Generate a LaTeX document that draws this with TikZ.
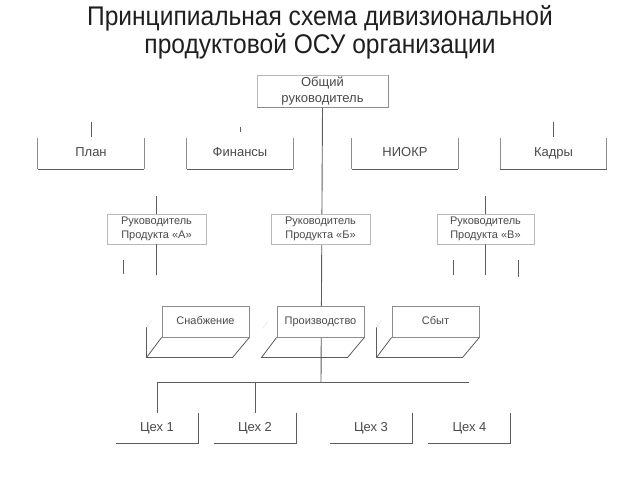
\documentclass[tikz,border=0pt]{standalone}
\usepackage{fontspec}
\setmainfont{Liberation Sans}
\newfontfamily\titlefont[FakeStretch=0.91]{Liberation Sans}
\usetikzlibrary{backgrounds}
\definecolor{txt}{HTML}{4A4A4A}
\definecolor{lite}{HTML}{B8B8B8}
\definecolor{mid}{HTML}{8C8C8C}
\definecolor{dark}{HTML}{5C5C5C}
\definecolor{faint}{HTML}{DDDDDD}
\begin{document}
\begin{tikzpicture}[x=1bp,y=-1bp,
  box/.style={inner sep=0pt, text=txt, align=center, fill=white},
  full/.style={box, draw=lite, line width=0.8bp},
  big/.style={font=\fontsize{13bp}{16bp}\selectfont},
  one/.style={text height=9.4bp, text depth=2.6bp},
  small/.style={font=\fontsize{11bp}{14bp}\selectfont},
  conn/.style={draw=dark, line width=0.9bp},
  side/.style={draw=mid, line width=0.8bp},
  base/.style={draw=dark, line width=1bp},
  plate/.style={draw=dark, line width=0.8bp}
]
\useasboundingbox (0,0) rectangle (640,480);

% title
\node[text=black!88, align=center, font=\titlefont\fontsize{27bp}{28bp}\selectfont] (title) at (320,32)
  {Принципиальная схема дивизиональной\\продуктовой ОСУ организации};

% top box
\node[full, big, minimum width=131bp, minimum height=32bp] (boss) at (322.5,91.5) {Общий\\руководитель};
\draw[side] (boss.north east) -- (boss.south east) -- (boss.south west);

% staff row
\foreach \n/\x/\t in {plan/91/План, fin/240/Финансы, niokr/405/НИОКР, kadry/553.5/Кадры}{
  \node[box, big, one, minimum width=106bp, minimum height=31bp] (\n) at (\x,153.5) {\t};
  \draw[side] (\n.north west) -- (\n.south west);
  \draw[side] (\n.north east) -- (\n.south east);
  \draw[base] (\n.south west) -- (\n.south east);
}
\coordinate (tpa) at (91,122);   \coordinate (tpb) at (91,137);
\coordinate (tfa) at (240,127);  \coordinate (tfb) at (240,132);
\coordinate (tka) at (553.5,122);\coordinate (tkb) at (553.5,137);
\draw[conn] (tpa) -- (tpb);
\draw[conn] (tfa) -- (tfb);
\draw[conn] (tka) -- (tkb);

% product managers
\node[full, small, minimum width=99bp, minimum height=30bp] (pa) at (156.5,229) {Руководитель\\Продукта «А»};
\node[full, small, minimum width=99bp, minimum height=30bp] (pb) at (320.5,229) {Руководитель\\Продукта «Б»};
\node[full, small, minimum width=97bp, minimum height=30bp] (pv) at (485.5,229) {Руководитель\\Продукта «В»};

\coordinate (aup) at (156.5,196); \coordinate (adn) at (156.5,275);
\coordinate (vup) at (485.5,196); \coordinate (vdn) at (485.5,275);
\coordinate (a1) at (123,260); \coordinate (a2) at (123,274);
\coordinate (v1) at (453,260); \coordinate (v2) at (453,275);
\coordinate (v3) at (518,260); \coordinate (v4) at (518,277);
\draw[conn] (aup) -- (pa.north);
\draw[conn] (pa.south) -- (adn);
\draw[conn] (vup) -- (pv.north);
\draw[conn] (pv.south) -- (vdn);
\draw[conn] (a1) -- (a2);
\draw[conn] (v1) -- (v2);
\draw[conn] (v3) -- (v4);

% functional blocks (3D plates)
\foreach \n/\x/\t in {sn/205.5/Снабжение, pr/320.5/Производство, sb/435.5/Сбыт}{
  \node[box, small, text height=8bp, text depth=2.2bp, draw=mid, line width=0.8bp, minimum width=87bp, minimum height=31bp] (\n) at (\x,321.5) {\t};
  \draw[plate] (\n.south west) -- ++(-15,20) -- ++(86,0) -- (\n.south east);
}
\draw[plate] ([shift={(-15,20)}]sn.south west) -- ++(0,-30);
\draw[faint] ([shift={(-15,-10)}]sn.south west) -- ++(5,-7);
\draw[plate] ([shift={(-15,20)}]sb.south west) -- ++(0,-30);
\draw[faint] ([shift={(-15,-10)}]sb.south west) -- ++(5,-7);
\draw[faint] ([shift={(-14,-9)}]pr.south west) -- ++(5,-7);

% workshops
\coordinate (bar) at (321,382);
\coordinate (barend) at (469,382);
\foreach \n/\x/\t in {c1/157/Цех 1, c2/255/Цех 2, c3/371/Цех 3, c4/469.5/Цех 4}{
  \node[box, big, one, minimum width=82bp, minimum height=30bp] (\n) at (\x,428) {\t};
  \draw[base] (\n.north east) -- (\n.south east) -- (\n.south west);
}

\begin{scope}[on background layer]
  \draw[conn] (boss.south) -- (bar);
  \draw[conn] (c1.north) |- (barend);
  \draw[conn] (c2.north) -- (c2.north |- bar);
\end{scope}
\end{tikzpicture}
\end{document}
